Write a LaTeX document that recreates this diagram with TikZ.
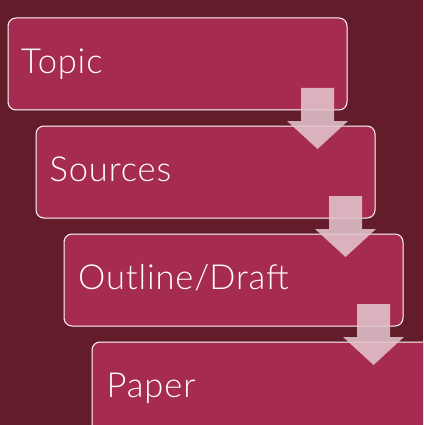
\documentclass[tikz,border=0pt]{standalone}
\usepackage{fontspec}
\setmainfont{Lato}[UprightFont=* Light,LetterSpace=2.5]
\definecolor{bgc}{HTML}{621C2A}
\definecolor{boxc}{HTML}{A62B50}
\definecolor{arrc}{HTML}{E2C4CC}
\begin{document}
\begin{tikzpicture}[x=1pt,y=-1pt,
  stepbox/.style={draw=white,line width=1pt,fill=boxc,rounded corners=8pt},
  lbl/.style={anchor=base west,text=white,font=\fontsize{34.5}{34.5}\selectfont,inner sep=0pt},
  downarrow/.style={fill=arrc,fill opacity=0.88}]
\fill[bgc] (0,0) rectangle (423,425);
\useasboundingbox (0,0) rectangle (423,425);
\begin{scope}
\clip (0,0) rectangle (423,425);
\foreach \i/\t in {0/Topic,1/Sources,2/Outline\slash Draft,3/Paper}{
  \draw[stepbox] (8+28*\i,18+108*\i) rectangle (347+28*\i,110+108*\i);
  \node[lbl] (t\i) at (21+28.5*\i,73.5+108*\i) {\t};
}
\foreach \i in {0,1,2}{
  \fill[downarrow] (301+28*\i,88+108*\i) -- (334+28*\i,88+108*\i) -- (334+28*\i,121+108*\i)
    -- (348+28*\i,121+108*\i) -- (317.5+28*\i,149+108*\i) -- (287+28*\i,121+108*\i)
    -- (301+28*\i,121+108*\i) -- cycle;
}
\end{scope}
\end{tikzpicture}
\end{document}
